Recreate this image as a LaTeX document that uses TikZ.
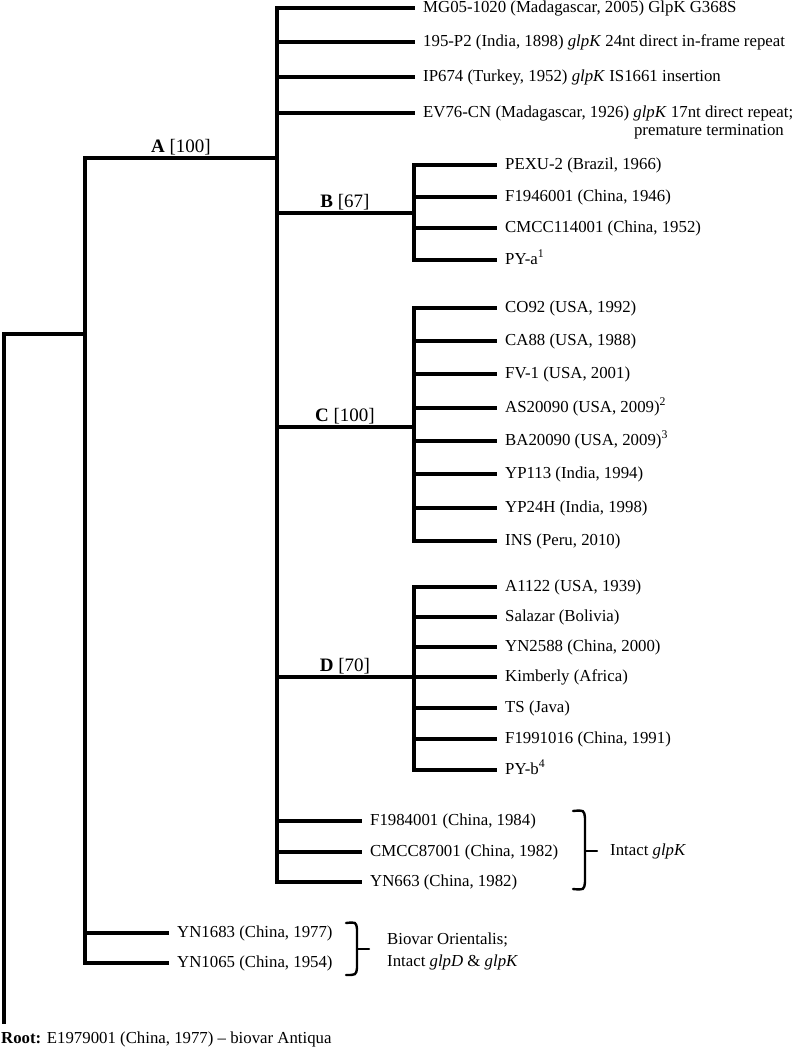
\documentclass[tikz,border=0pt]{standalone}
\usepackage{fontspec}
\setmainfont{Liberation Serif}
\begin{document}
\begin{tikzpicture}[x=1pt,y=-1pt,
  br/.style={line width=4pt, line cap=rect},
  leaf/.style={anchor=west, inner xsep=10pt, inner ysep=0pt, text height=11.5pt, text depth=3.5pt, font=\fontsize{16.8}{18}\selectfont},
  txt/.style={inner sep=0pt, font=\fontsize{16.8}{18}\selectfont},
  clade/.style={anchor=base, inner sep=0pt, font=\fontsize{19}{22}\selectfont},
  brc/.style={line width=2.4pt, line cap=round},
]
\useasboundingbox (0,0) rectangle (792,1050);
% junction coordinates
\coordinate (rb) at (4,1022);
\coordinate (rt) at (4,334);
\coordinate (o) at (85,334);
\coordinate (at) at (277,158);
\coordinate (bj) at (414,213);
\coordinate (cj) at (414,427);
\coordinate (dj) at (414,677);
% top group
\node[leaf] (mg) at (413,8) {MG05-1020 (Madagascar, 2005) GlpK G368S};
\node[leaf] (p2) at (413,42) {195-P2 (India, 1898) \textit{glpK} 24nt direct in-frame repeat};
\node[leaf] (ip) at (413,77) {IP674 (Turkey, 1952) \textit{glpK} IS1661 insertion};
\node[leaf] (ev) at (413,113) {EV76-CN (Madagascar, 1926) \textit{glpK} 17nt direct repeat;};
\node[txt, anchor=base east] (ev2) at (784,135) {premature termination};
% B
\node[leaf] (pexu) at (495,165) {PEXU-2 (Brazil, 1966)};
\node[leaf] (f46) at (495,197) {F1946001 (China, 1946)};
\node[leaf] (c114) at (495,228) {CMCC114001 (China, 1952)};
\node[leaf] (pya) at (495,260) {PY-a\textsuperscript{1}};
% C
\node[leaf] (co92) at (495,308) {CO92 (USA, 1992)};
\node[leaf] (ca88) at (495,341) {CA88 (USA, 1988)};
\node[leaf] (fv1) at (495,374) {FV-1 (USA, 2001)};
\node[leaf] (as) at (495,408) {AS20090 (USA, 2009)\textsuperscript{2}};
\node[leaf] (ba) at (495,441) {BA20090 (USA, 2009)\textsuperscript{3}};
\node[leaf] (yp113) at (495,474) {YP113 (India, 1994)};
\node[leaf] (yp24) at (495,508) {YP24H (India, 1998)};
\node[leaf] (ins) at (495,541) {INS (Peru, 2010)};
% D
\node[leaf] (a1122) at (495,587) {A1122 (USA, 1939)};
\node[leaf] (sal) at (495,617) {Salazar (Bolivia)};
\node[leaf] (yn2588) at (495,647) {YN2588 (China, 2000)};
\node[leaf] (kim) at (495,677) {Kimberly (Africa)};
\node[leaf] (ts) at (495,708) {TS (Java)};
\node[leaf] (f91) at (495,739) {F1991016 (China, 1991)};
\node[leaf] (pyb) at (495,770) {PY-b\textsuperscript{4}};
% lower A
\node[leaf] (f84) at (360,821) {F1984001 (China, 1984)};
\node[leaf] (c87) at (360,852) {CMCC87001 (China, 1982)};
\node[leaf] (yn663) at (360,882) {YN663 (China, 1982)};
% orientalis
\node[leaf] (yn1683) at (167,933) {YN1683 (China, 1977)};
\node[leaf] (yn1065) at (167,963) {YN1065 (China, 1954)};
% root label
\node[txt, anchor=base west] (root) at (1,1043) {\textbf{Root:} E1979001 (China, 1977) -- biovar Antiqua};
% clade labels
\node[clade] (la) at (181,152) {\textbf{A} [100]};
\node[clade] (lb) at (345,207) {\textbf{B} [67]};
\node[clade] (lc) at (345,421) {\textbf{C} [100]};
\node[clade] (ld) at (345,671) {\textbf{D} [70]};
% tree lines
\draw[br] (rb) -- (rt) -- (o);
\draw[br] (at -| o) -- (yn1065.west -| o);
\draw[br] (at -| o) -- (at);
\draw[br] (mg.west -| at) -- (yn663.west -| at);
\foreach \n in {mg,p2,ip,ev,f84,c87,yn663} \draw[br] (\n.west -| at) -- (\n.west);
\foreach \n in {yn1683,yn1065} \draw[br] (\n.west -| o) -- (\n.west);
\draw[br] (bj -| at) -- (bj);
\draw[br] (cj -| at) -- (cj);
\draw[br] (dj -| at) -- (dj);
\draw[br] (pexu.west -| bj) -- (pya.west -| bj);
\draw[br] (co92.west -| cj) -- (ins.west -| cj);
\draw[br] (a1122.west -| dj) -- (pyb.west -| dj);
\foreach \n in {pexu,f46,c114,pya} \draw[br] (\n.west -| bj) -- (\n.west);
\foreach \n in {co92,ca88,fv1,as,ba,yp113,yp24,ins} \draw[br] (\n.west -| cj) -- (\n.west);
\foreach \n in {a1122,sal,yn2588,kim,ts,f91,pyb} \draw[br] (\n.west -| dj) -- (\n.west);
% braces (square style with middle tick)
\draw[brc] (573,811) .. controls (584,810) .. (585,818) -- (585,882) .. controls (584,890) .. (573,889);
\draw[brc] (585,851) -- (597,851);
\node[txt, anchor=west] (intact) at (610,851) {Intact \textit{glpK}};
\draw[brc] (346,923) .. controls (356,922) .. (357,929) -- (357,968) .. controls (356,975) .. (346,975);
\draw[brc] (357,949) -- (369,949);
\node[txt, anchor=west, align=left, font=\fontsize{16.8}{22}\selectfont] (biovar) at (387,951) {Biovar Orientalis;\\Intact \textit{glpD} \& \textit{glpK}};
\end{tikzpicture}
\end{document}
